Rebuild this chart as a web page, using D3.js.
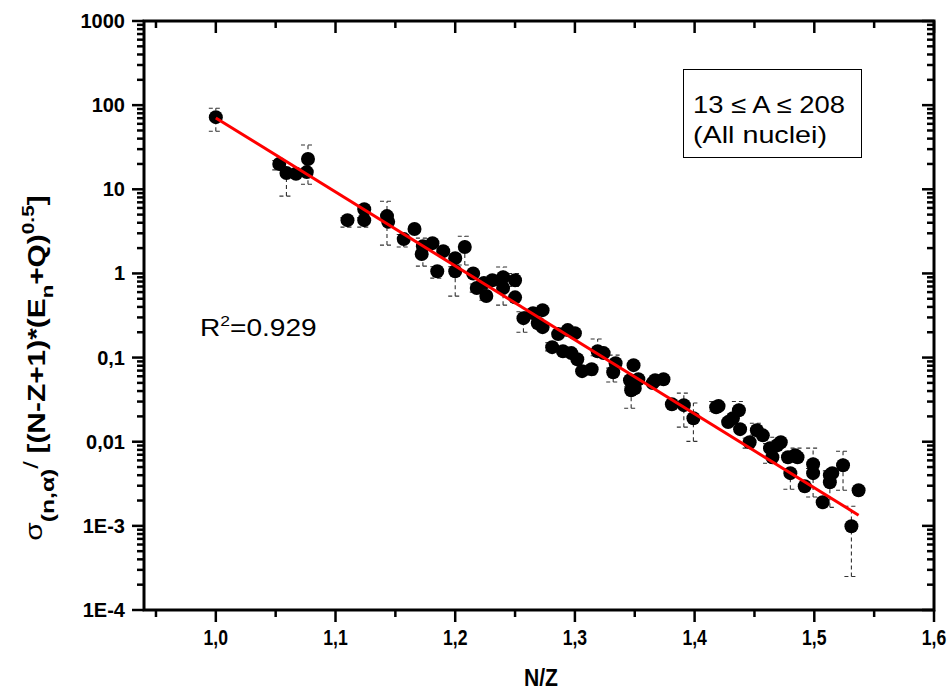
<!DOCTYPE html>
<html><head><meta charset="utf-8">
<script src="https://cdn.jsdelivr.net/npm/d3@7"></script>
<style>
body{margin:0;background:#fff;}
text{font-family:"Liberation Sans",Arial,sans-serif;}
</style></head><body>
<svg id="c" width="950" height="691"></svg>
<script>
// ---- data ----
const nz = [1.000,1.053,1.059,1.067,1.077,1.076,1.110,1.124,1.124,1.143,1.144,1.157,1.166,1.173,1.172,1.181,1.190,1.185,1.200,1.200,
1.208,1.215,1.218,1.224,1.231,1.226,1.240,1.240,1.250,1.250,1.257,1.265,1.273,1.273,1.269,1.281,1.286,1.294,1.300,1.290,
1.297,1.302,1.306,1.314,1.319,1.324,1.334,1.332,1.349,1.346,1.353,1.347,1.350,1.365,1.374,1.367,1.381,1.391,1.399,1.418,
1.420,1.437,1.428,1.432,1.438,1.446,1.452,1.457,1.463,1.465,1.469,1.472,1.478,1.486,1.480,1.484,1.499,1.499,1.492,1.513,
1.513,1.515,1.507,1.524,1.537,1.531];
const sigma = [72,20,15.6,15.3,22.9,16,4.3,5.8,4.3,4.8,4.1,2.56,3.37,2.11,1.70,2.29,1.84,1.06,1.52,1.06,
2.06,1.0,0.67,0.77,0.83,0.54,0.90,0.67,0.83,0.52,0.294,0.337,0.366,0.230,0.256,0.133,0.190,0.212,0.195,0.119,
0.113,0.0957,0.069,0.0727,0.119,0.113,0.0857,0.067,0.0813,0.0538,0.0553,0.0409,0.043,0.0497,0.0553,0.0538,0.0279,0.0272,0.019,0.0257,
0.0265,0.0237,0.0171,0.019,0.0141,0.00987,0.0137,0.0119,0.00838,0.00654,0.00908,0.00987,0.00654,0.00654,0.00423,0.0069,0.0054,0.00423,0.00296,0.0040,
0.0033,0.00423,0.00191,0.00526,0.00265,0.00099];
const errLo = [49,17,8.3,null,11.5,null,3.55,null,3.55,2.17,null,2.06,null,1.22,null,null,null,0.88,null,0.537,
1.26,null,0.6,null,null,0.48,0.8,0.42,0.7,null,0.2,null,null,null,null,0.12,null,null,null,null,
null,null,null,0.062,0.105,null,0.075,0.0513,null,null,null,0.025,null,null,null,null,null,0.0149,0.0101,0.023,
null,0.021,null,null,null,0.0084,0.012,null,0.00555,null,0.008,null,null,0.0058,0.00272,null,0.0048,0.0022,null,0.00166,
null,null,null,0.00265,null,0.00025];
const errHi = [92,22,17,null,33.6,null,4.6,null,4.6,7.2,null,2.9,null,2.63,null,null,null,1.2,null,1.2,
2.77,null,0.75,null,null,0.6,1.19,0.75,1.0,null,0.35,null,null,null,null,0.15,null,null,null,null,
null,null,null,0.08,0.166,null,0.107,0.075,null,null,null,0.045,null,null,null,null,null,0.0378,0.0288,0.030,
null,0.030,null,null,null,0.011,0.0166,null,0.0095,null,0.0113,null,null,0.0084,0.0048,null,0.0084,0.0048,null,0.0045,
null,null,null,0.0077,null,0.00171];
const fitX = [1.0, 1.537];
const fitY = [70.3, 0.00134];
const xTicks = [1.0,1.1,1.2,1.3,1.4,1.5,1.6];
const xTickLabels = ["1,0","1,1","1,2","1,3","1,4","1,5","1,6"];
const yTicks = [1000,100,10,1,0.1,0.01,0.001,0.0001];
const yTickLabels = ["1000","100","10","1","0,1","0,01","1E-3","1E-4"];

// ---- layout ----
const L=144, R=934, T=21, B=610;
const svg = d3.select("#c");
const x = d3.scaleLinear().domain([0.94,1.6]).range([L,R]);
const y = d3.scaleLog().domain([1e-4,1000]).range([B,T]);

// error bars
const g = svg.append("g");
const eb = nz.map((v,i)=>({x:v,y:sigma[i],lo:errLo[i],hi:errHi[i]})).filter(d=>d.lo!=null);
const ebG = g.append("g").attr("stroke","#333").attr("stroke-width",1.1).attr("stroke-dasharray","4,3").attr("fill","none");
eb.forEach(d=>{
  const cx=x(d.x);
  ebG.append("line").attr("x1",cx).attr("x2",cx).attr("y1",y(d.lo)).attr("y2",y(d.hi));
  ebG.append("line").attr("x1",cx-7).attr("x2",cx+7).attr("y1",y(d.lo)).attr("y2",y(d.lo));
  ebG.append("line").attr("x1",cx-7).attr("x2",cx+7).attr("y1",y(d.hi)).attr("y2",y(d.hi));
});

// points
g.append("g").selectAll("circle").data(nz.map((v,i)=>[v,sigma[i]])).join("circle")
  .attr("cx",d=>x(d[0])).attr("cy",d=>y(d[1])).attr("r",7).attr("fill","#000");

// fit line
g.append("path").datum(fitX.map((v,i)=>[v,fitY[i]]))
  .attr("d",d3.line().x(d=>x(d[0])).y(d=>y(d[1])))
  .attr("stroke","#ff0000").attr("stroke-width",3).attr("fill","none");

// frame
svg.append("rect").attr("x",L).attr("y",T).attr("width",R-L).attr("height",B-T)
  .attr("fill","none").attr("stroke","#000").attr("stroke-width",3);

// x ticks
const xMinor = d3.range(0.95,1.6,0.1);
const tk = svg.append("g").attr("stroke","#000").attr("stroke-width",2.5);
xTicks.forEach(v=>{
  tk.append("line").attr("x1",x(v)).attr("x2",x(v)).attr("y1",B).attr("y2",B+12);
  tk.append("line").attr("x1",x(v)).attr("x2",x(v)).attr("y1",T).attr("y2",T+12);
});
xMinor.forEach(v=>{
  tk.append("line").attr("x1",x(v)).attr("x2",x(v)).attr("y1",B).attr("y2",B+7);
  tk.append("line").attr("x1",x(v)).attr("x2",x(v)).attr("y1",T).attr("y2",T+7);
});
// y ticks
yTicks.forEach(v=>{
  tk.append("line").attr("x1",L-12).attr("x2",L).attr("y1",y(v)).attr("y2",y(v));
  tk.append("line").attr("x1",R-12).attr("x2",R).attr("y1",y(v)).attr("y2",y(v));
});
yTicks.slice(1).forEach(dec=>{
  for(let k=2;k<=9;k++){
    const v=dec*k;
    tk.append("line").attr("x1",L-7).attr("x2",L).attr("y1",y(v)).attr("y2",y(v));
    tk.append("line").attr("x1",R-7).attr("x2",R).attr("y1",y(v)).attr("y2",y(v));
  }
});

// tick labels
svg.append("g").selectAll("text").data(xTicks).join("text")
  .attr("transform",d=>`translate(${x(d)},${B+35}) scale(0.8,1)`).attr("text-anchor","middle")
  .attr("font-size",22).attr("font-weight","bold").text((d,i)=>xTickLabels[i]);
svg.append("g").selectAll("text").data(yTicks).join("text")
  .attr("x",L-19).attr("y",d=>y(d)+7).attr("text-anchor","end")
  .attr("font-size",20).attr("font-weight","bold").text((d,i)=>yTickLabels[i]);

// axis titles
svg.append("text").attr("transform","translate(541,686) scale(0.88,1)").attr("text-anchor","middle")
  .attr("font-size",24).attr("font-weight","bold").text("N/Z");

const yt = svg.append("text").attr("transform","translate(45,368) rotate(-90) scale(1.3,1)").attr("text-anchor","middle")
  .attr("font-size",23).attr("font-weight","bold");
yt.append("tspan").attr("font-weight","normal").attr("dy",-3).text("σ");
yt.append("tspan").attr("font-size",19).attr("dy",12).text("(n,α)");
yt.append("tspan").attr("font-weight","normal").attr("font-size",21).attr("dy",-16).text("/ ");
yt.append("tspan").attr("dy",7).text("[(N-Z+1)*(E");
yt.append("tspan").attr("font-size",17).attr("dy",8).text("n");
yt.append("tspan").attr("dy",-8).text("+Q)");
yt.append("tspan").attr("font-size",16).attr("dy",-11).text("0.5");
yt.append("tspan").attr("dy",11).text("]");

// legend box
svg.append("rect").attr("x",683.5).attr("y",69.5).attr("width",178).attr("height",88)
  .attr("fill","#fff").attr("stroke","#000").attr("stroke-width",1);
svg.append("text").attr("x",693).attr("y",113).attr("font-size",24)
  .attr("textLength",152).attr("lengthAdjust","spacingAndGlyphs").text("13 ≤ Α ≤ 208");
svg.append("text").attr("x",693).attr("y",143).attr("font-size",24)
  .attr("textLength",134).attr("lengthAdjust","spacingAndGlyphs").text("(All nuclei)");

// R^2
const r2 = svg.append("text").attr("transform","translate(200,336) scale(1.17,1)").attr("font-size",24);
r2.append("tspan").text("R");
r2.append("tspan").attr("font-size",15).attr("dy",-10).text("2");
r2.append("tspan").attr("dy",10).text("=0.929");
</script></body></html>
